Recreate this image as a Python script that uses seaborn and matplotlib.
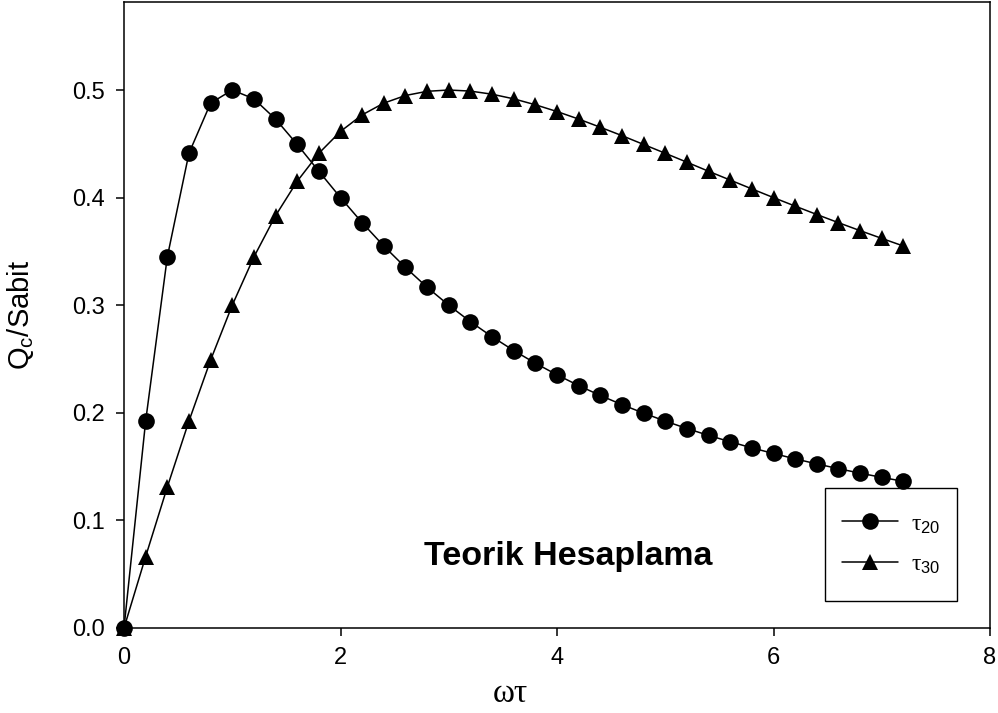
import numpy as np
import pandas as pd
import matplotlib
matplotlib.use("Agg")
import matplotlib.pyplot as plt
import seaborn as sns
from matplotlib.patches import Rectangle

# ---- data ----
omega_tau = [0.0, 0.2, 0.4, 0.6, 0.8, 1.0, 1.2, 1.4, 1.6, 1.8, 2.0, 2.2, 2.4, 2.6, 2.8,
             3.0, 3.2, 3.4, 3.6, 3.8, 4.0, 4.2, 4.4, 4.6, 4.8, 5.0, 5.2, 5.4, 5.6, 5.8,
             6.0, 6.2, 6.4, 6.6, 6.8, 7.0, 7.2]
tau20 = [0.0, 0.1923, 0.3448, 0.4412, 0.4878, 0.5000, 0.4918, 0.4730, 0.4494, 0.4245,
         0.4000, 0.3767, 0.3550, 0.3351, 0.3167, 0.3000, 0.2847, 0.2707, 0.2579, 0.2461,
         0.2353, 0.2253, 0.2161, 0.2076, 0.1997, 0.1923, 0.1854, 0.1790, 0.1731, 0.1674,
         0.1622, 0.1572, 0.1525, 0.1481, 0.1439, 0.1400, 0.1363]
tau30 = [0.0, 0.0664, 0.1310, 0.1923, 0.2490, 0.3000, 0.3448, 0.3832, 0.4152, 0.4412,
         0.4615, 0.4769, 0.4878, 0.4949, 0.4988, 0.5000, 0.4990, 0.4961, 0.4918, 0.4863,
         0.4800, 0.4730, 0.4654, 0.4576, 0.4494, 0.4412, 0.4329, 0.4245, 0.4163, 0.4081,
         0.4000, 0.3921, 0.3843, 0.3767, 0.3693, 0.3621, 0.3550]
series_labels = ["τ$_{\\mathrm{20}}$", "τ$_{\\mathrm{30}}$"]
x_ticks = [0, 2, 4, 6, 8]
y_ticks = [0.0, 0.1, 0.2, 0.3, 0.4, 0.5]
annotation = "Teorik Hesaplama"

df = pd.DataFrame({
    "x": omega_tau * 2,
    "y": tau20 + tau30,
    "series": [series_labels[0]] * len(omega_tau) + [series_labels[1]] * len(omega_tau),
})

sns.set_theme(style="ticks")
plt.rcParams["font.family"] = ["Liberation Sans", "DejaVu Sans"]
plt.rcParams["mathtext.fontset"] = "custom"
plt.rcParams["mathtext.rm"] = "Liberation Sans"
plt.rcParams["mathtext.it"] = "Liberation Sans:italic"
plt.rcParams["mathtext.bf"] = "Liberation Sans:bold"
plt.rcParams["axes.linewidth"] = 1.1
plt.rcParams["xtick.major.width"] = 1.1
plt.rcParams["ytick.major.width"] = 1.1
plt.rcParams["text.color"] = "black"
plt.rcParams["axes.labelcolor"] = "black"

fig = plt.figure(figsize=(9.98, 7.13), dpi=100)
ax = fig.add_axes([124 / 998, 1 - 628 / 713, 866 / 998, 626 / 713])

sns.lineplot(data=df, x="x", y="y", style="series", hue="series",
             palette={series_labels[0]: "black", series_labels[1]: "black"},
             markers={series_labels[0]: "o", series_labels[1]: "^"},
             dashes=False, linewidth=1.1, markersize=12, markeredgewidth=0,
             ax=ax, legend=True, sort=False)
for ln in ax.lines:
    ln.set_clip_on(False)
    ln.set_zorder(4)

ax.set_xlim(0, 8)
ax.set_ylim(0, 0.5818)
ax.set_xticks(x_ticks)
ax.set_xticklabels([str(t) for t in x_ticks])
ax.set_yticks(y_ticks)
ax.set_yticklabels([f"{t:.1f}" for t in y_ticks])
ax.tick_params(axis="both", direction="out", length=6, labelsize=17, colors="black", pad=8)
for s in ax.spines.values():
    s.set_visible(True)
    s.set_color("black")

ax.set_xlabel("ωτ", family=["Liberation Serif", "DejaVu Serif"], fontsize=24)
ax.xaxis.set_label_coords((510 - 124) / 866, (628 - 694) / 626)
ax.xaxis.label.set_va("center")
ax.set_ylabel(r"Q$_\mathrm{c}$/Sabit", fontsize=21)
ax.yaxis.set_label_coords((21 - 124) / 866, 0.5)
ax.yaxis.label.set_va("center")

handles, labels = ax.get_legend_handles_labels()
ax.get_legend().remove()
leg = ax.legend(handles, labels, loc="center left", bbox_to_anchor=(0.829, 0.1334),
                frameon=False, prop={"family": ["Liberation Serif", "DejaVu Serif"], "size": 17},
                handlelength=2.37, labelspacing=0.75, handletextpad=0.55,
                borderaxespad=0, borderpad=0)
for h in leg.legend_handles:
    h.set_markersize(12)
    h.set_linewidth(1.1)

ax.add_patch(Rectangle((0.809, 0.043), 0.153, 0.1806, transform=ax.transAxes,
                       fill=False, edgecolor="black", linewidth=1.0, zorder=5))

ax.text(0.513, 0.115, annotation, transform=ax.transAxes, ha="center", va="center",
        fontsize=24.5, fontweight="bold", color="black")

fig.savefig("out.png", dpi=100)
